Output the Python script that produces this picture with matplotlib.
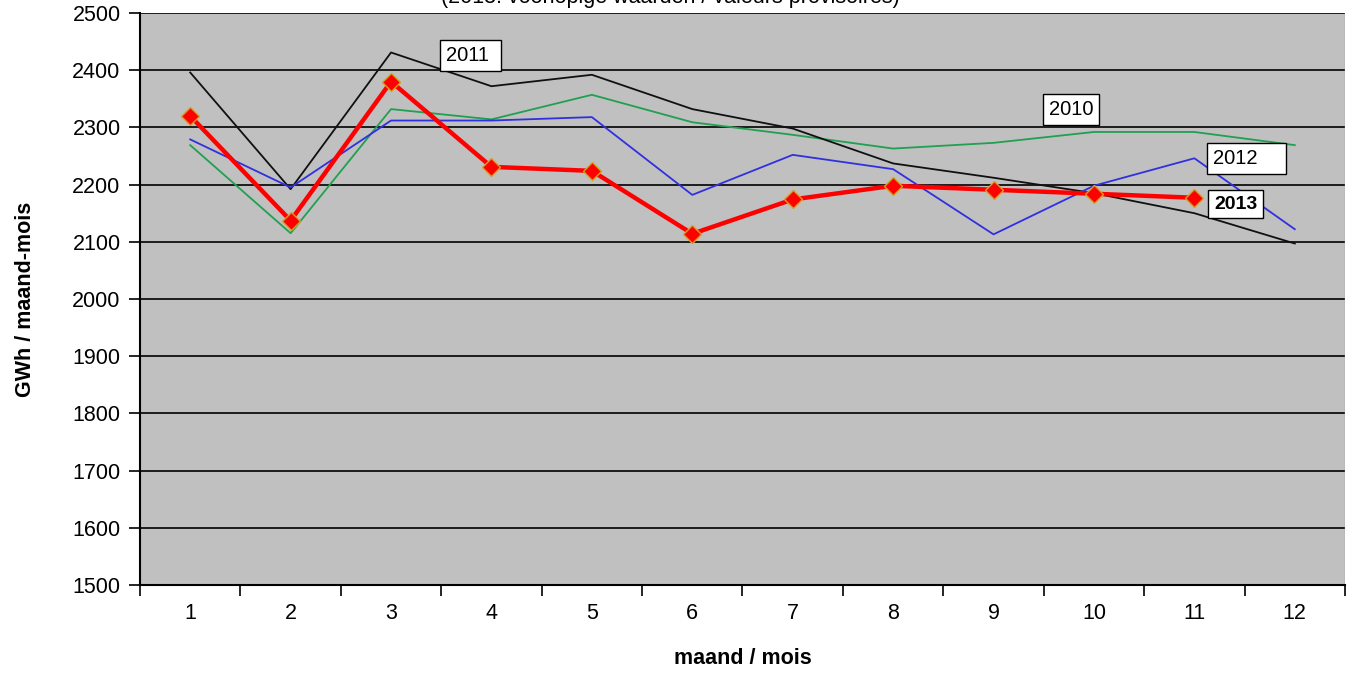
import matplotlib
matplotlib.use("Agg")
import matplotlib.pyplot as plt

months = [1, 2, 3, 4, 5, 6, 7, 8, 9, 10, 11, 12]
y2010 = [2269, 2115, 2332, 2314, 2357, 2309, 2287, 2263, 2273, 2292, 2292, 2269]
y2011 = [2396, 2192, 2431, 2372, 2392, 2332, 2298, 2237, 2212, 2185, 2150, 2097]
y2012 = [2279, 2195, 2312, 2312, 2318, 2182, 2252, 2227, 2113, 2198, 2246, 2122]
y2013 = [2320, 2137, 2380, 2231, 2224, 2114, 2174, 2198, 2191, 2184, 2177]
yticks = [1500, 1600, 1700, 1800, 1900, 2000, 2100, 2200, 2300, 2400, 2500]

plt.rcParams['font.family'] = ['Liberation Sans', 'DejaVu Sans']

fig = plt.figure(figsize=(13.51, 6.87), dpi=100)
ax = fig.add_axes([140/1351, 1-585/687, (1345-140)/1351, (585-13)/687])
ax.set_facecolor('#c0c0c0')

ax.set_ylim(1500, 2500)
ax.set_xlim(0.5, 12.5)
ax.set_yticks(yticks)
ax.yaxis.grid(True, color='black', linewidth=1.2)
ax.set_axisbelow(True)

ax.plot(months, y2010, color='#20a050', linewidth=1.3, zorder=3)
ax.plot(months, y2011, color='#101010', linewidth=1.3, zorder=3)
ax.plot(months, y2012, color='#3030e0', linewidth=1.3, zorder=3)
ax.plot(months[:len(y2013)], y2013, color='#ff0000', linewidth=3.2, marker='D',
        markersize=9, markerfacecolor='#ff0000', markeredgecolor='#d4a020',
        markeredgewidth=1.0, zorder=4)

box = dict(boxstyle='square,pad=0.3', facecolor='white', edgecolor='black', linewidth=1)
ax.text(3.79, 2425, '2011 ', fontsize=14.5, ha='center', va='center', bbox=box, zorder=5)
ax.text(9.77, 2332, '2010', fontsize=14.5, ha='center', va='center', bbox=box, zorder=5)
ax.text(11.52, 2246, '2012    ', fontsize=14.5, ha='center', va='center', bbox=box, zorder=5)
ax.text(11.41, 2166, '2013', fontsize=14, fontweight='bold', ha='center', va='center', bbox=box, zorder=5)

ax.set_xticks(months)
ax.set_xticks([m + 0.5 for m in [0] + months], minor=True)
ax.tick_params(axis='x', which='major', length=0, pad=13, labelsize=15.5)
ax.tick_params(axis='x', which='minor', length=8, width=1.2, direction='out')
ax.tick_params(axis='y', length=8, width=1.2, direction='out', labelsize=15.5, pad=6)

for s in ['top', 'right']:
    ax.spines[s].set_visible(False)
ax.spines['left'].set_color('black')
ax.spines['left'].set_linewidth(1.5)
ax.spines['bottom'].set_color('black')
ax.spines['bottom'].set_linewidth(1.5)
ax.axvline(12.5, color='#a0a0a0', linewidth=1)

ax.set_xlabel('maand / mois', fontsize=15.5, fontweight='bold', labelpad=17)
ax.set_ylabel('GWh / maand-mois', fontsize=15.5, fontweight='bold', labelpad=26)

fig.text(670/1351, 1-3/687, '(2013: voorlopige waarden / valeurs provisoires)',
         fontsize=15.5, ha='center', va='baseline')

fig.savefig('out.png', dpi=100, facecolor='white')
